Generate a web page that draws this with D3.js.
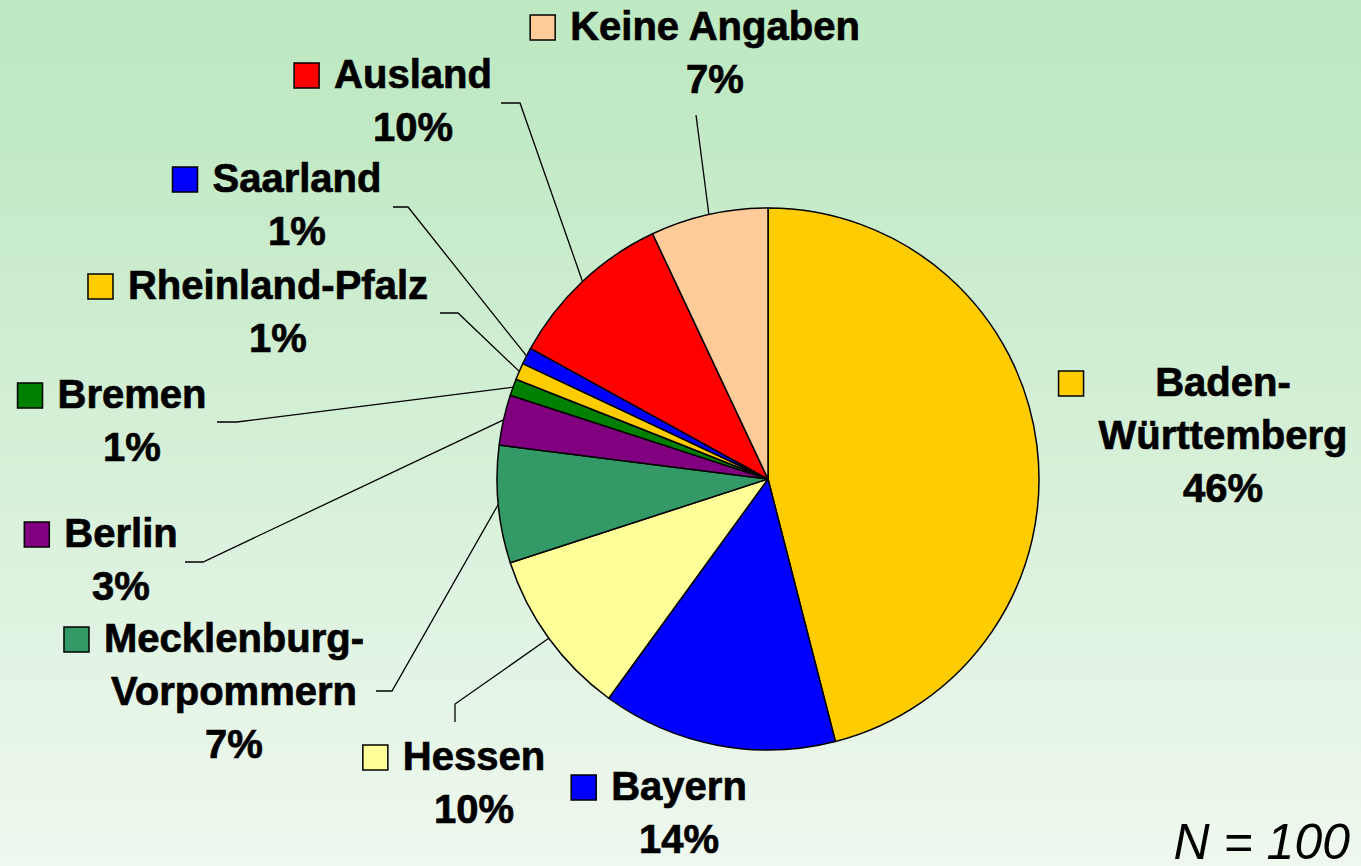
<!DOCTYPE html>
<html>
<head>
<meta charset="utf-8">
<script src="https://cdn.jsdelivr.net/npm/d3@7"></script>
<style>
  html,body{margin:0;padding:0;overflow:hidden;}
  svg{display:block;font-family:"Liberation Sans",Arial,sans-serif;}
</style>
</head>
<body>
<div id="chart"></div>
<script>
// Herkunft nach Bundesland (N = 100)
const categories = ['Baden-Württemberg','Bayern','Hessen','Mecklenburg-Vorpommern','Berlin','Bremen','Rheinland-Pfalz','Saarland','Ausland','Keine Angaben'];
const values     = [46, 14, 10, 7, 3, 1, 1, 1, 10, 7];
const colors     = ['#ffcc00','#0000ff','#ffff99','#339966','#800080','#008000','#ffcc00','#0000ff','#ff0000','#ffcc99'];
const labelLines = [['Baden-','Württemberg'],['Bayern'],['Hessen'],['Mecklenburg-','Vorpommern'],['Berlin'],['Bremen'],['Rheinland-Pfalz'],['Saarland'],['Ausland'],['Keine Angaben']];

// label layout: text centre x, first baseline y, leader elbow/end points (null = no leader)
const labelPos = [
  {x:1223, y:396, lead:null},
  {x:679,  y:800, lead:null},
  {x:474,  y:770, lead:[[455,704],[455,722]]},
  {x:234,  y:652, lead:[[392,691],[376,691]]},
  {x:121,  y:547, lead:[[203,562],[185,562]]},
  {x:132,  y:408, lead:[[237,422],[217,422]]},
  {x:278,  y:299, lead:[[458,313],[440,313]]},
  {x:297,  y:192, lead:[[408,207],[393,207]]},
  {x:413,  y:88,  lead:[[520,103],[501,103]]},
  {x:715,  y:40,  lead:[[696,115]]}
];

const W = 1361, H = 866;
const cx = 768, cy = 479, R = 271;
const LH = 53, FS = 40;

const svg = d3.select('#chart').append('svg').attr('width',W).attr('height',H);
const grad = svg.append('defs').append('linearGradient').attr('id','bg').attr('x1',0).attr('y1',0).attr('x2',0).attr('y2',1);
grad.append('stop').attr('offset','0%').attr('stop-color','#bee9c2');
grad.append('stop').attr('offset','12%').attr('stop-color','#c0e9c4');
grad.append('stop').attr('offset','100%').attr('stop-color','#eff8ef');
svg.append('rect').attr('width',W).attr('height',H).attr('fill','url(#bg)');

const data = categories.map((c,i)=>({name:c, value:values[i], color:colors[i], lines:labelLines[i], pos:labelPos[i]}));
const pie = d3.pie().value(d=>d.value).sort(null);
const arcs = pie(data);
const arc = d3.arc().innerRadius(0).outerRadius(R);

const g = svg.append('g').attr('transform',`translate(${cx},${cy})`);
g.selectAll('path.slice').data(arcs).join('path')
  .attr('class','slice')
  .attr('d',arc)
  .attr('fill',d=>d.data.color)
  .attr('stroke','#000').attr('stroke-width',1.5).attr('stroke-linejoin','round');

// leader lines from slice mid-angle on rim
arcs.forEach(a=>{
  const p = a.data.pos;
  if(!p.lead) return;
  const m = (a.startAngle+a.endAngle)/2;
  const start = [cx + R*Math.sin(m), cy - R*Math.cos(m)];
  svg.append('path')
    .attr('d', d3.line()([start, ...p.lead]))
    .attr('fill','none').attr('stroke','#000').attr('stroke-width',1.3);
});

// labels with legend key
arcs.forEach(a=>{
  const d = a.data, p = d.pos;
  const lg = svg.append('g');
  const lines = [...d.lines, d.value + '%'];
  let maxW = 0;
  lines.forEach((t,i)=>{
    const tx = lg.append('text').attr('x',p.x).attr('y',p.y + i*LH)
      .attr('text-anchor','middle').attr('font-size',FS).attr('font-weight',700)
      .attr('fill','#000').attr('stroke','#000').attr('stroke-width',0.7).text(t);
    if(i < d.lines.length) maxW = Math.max(maxW, tx.node().getComputedTextLength());
  });
  lg.append('rect')
    .attr('x', p.x - maxW/2 - 15 - 25).attr('y', p.y - 25)
    .attr('width',25).attr('height',25)
    .attr('fill',d.color).attr('stroke','#000').attr('stroke-width',1.5);
});

svg.append('text').attr('x',1350).attr('y',859).attr('text-anchor','end')
  .attr('font-size',50).attr('font-style','italic').attr('fill','#000').text('N = 100');
</script>
</body>
</html>
